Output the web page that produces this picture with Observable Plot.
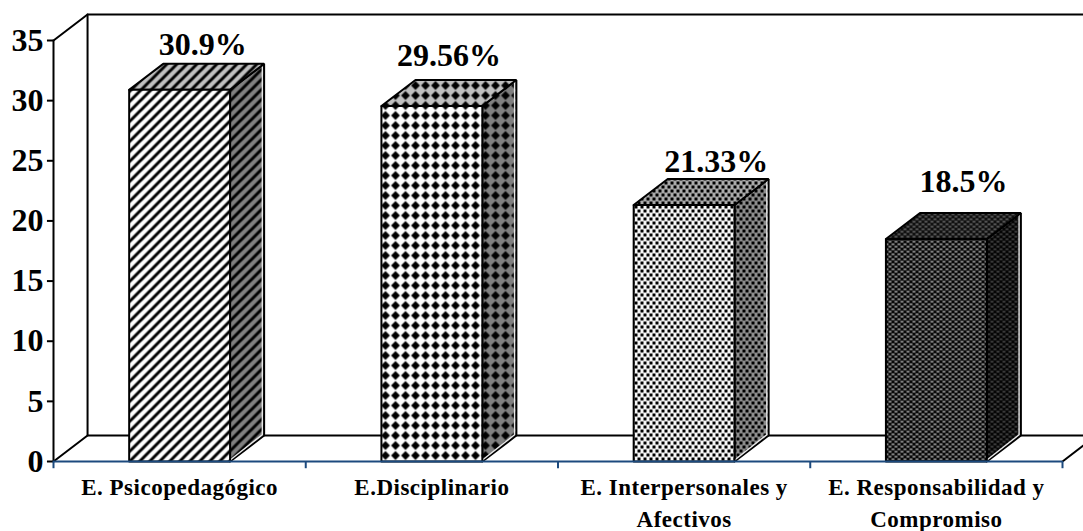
<!DOCTYPE html>
<html>
<head>
<meta charset="utf-8">
<script src="https://cdn.jsdelivr.net/npm/d3@7"></script>
<script src="https://cdn.jsdelivr.net/npm/@observablehq/plot@0.6"></script>
<style>
  html, body { margin: 0; padding: 0; background: #fff; }
  svg { display: block; }
</style>
</head>
<body>
<div id="chart"></div>
<script>
// Survey dimensions and their percentages
const categories = ["E. Psicopedagógico", "E.Disciplinario", "E. Interpersonales y|Afectivos", "E. Responsabilidad y|Compromiso"];
const values = [30.9, 29.56, 21.33, 18.5];
const valueLabels = ["30.9%", "29.56%", "21.33%", "18.5%"];
const yTicks = [0, 5, 10, 15, 20, 25, 30, 35];
const patternNames = ["stripes", "diamonds", "dots", "mesh"];

// Oblique projection of the depth axis, in data units
const depthX = 0.135;
const depthY = 2.16;
const barHalf = 0.2;
const xEnd = categories.length;
const yEnd = 35;

// Pixel nudges that place each value label above its bar
const labelNudge = [[6, -19], [0, -24], [15, -17], [10, -31]];

// Closed outline helper: every polygon carries an id so Plot.line keeps them apart
const poly = (id, pts) => pts.concat([pts[0]]).map(([x, y]) => ({id, x, y}));

const bars = values.map((v, i) => ({
  i, v, x0: i + 0.5 - barHalf, x1: i + 0.5 + barHalf, name: patternNames[i]
}));

const face = (b, which) => {
  const {x0, x1, v} = b;
  if (which === "front") return poly(b.name + which, [[x0, 0], [x1, 0], [x1, v], [x0, v]]);
  if (which === "top") return poly(b.name + which, [[x0, v], [x1, v], [x1 + depthX, v + depthY], [x0 + depthX, v + depthY]]);
  return poly(b.name + which, [[x1, 0], [x1 + depthX, depthY], [x1 + depthX, v + depthY], [x1, v]]);
};

// Back wall and floor outline
const wall = [
  {id: "a", x: 0, y: yEnd}, {id: "a", x: depthX, y: yEnd + depthY}, {id: "a", x: xEnd + depthX + 0.1, y: yEnd + depthY},
  {id: "b", x: depthX, y: yEnd + depthY}, {id: "b", x: depthX, y: depthY}, {id: "b", x: xEnd + depthX + 0.1, y: depthY},
  {id: "c", x: 0, y: 0}, {id: "c", x: depthX, y: depthY},
  {id: "d", x: xEnd, y: 0}, {id: "d", x: xEnd + depthX, y: depthY},
  {id: "e", x: 0, y: 0}, {id: "e", x: 0, y: yEnd}
];

const faceMark = (which) => bars.map(b =>
  Plot.line(face(b, which), {
    x: "x", y: "y", z: "id",
    fill: `url(#${b.name}-${which})`,
    stroke: "#000", strokeWidth: 2, strokeLinejoin: "miter", curve: "linear"
  })
);

// Pale highlight along the lower and outer edges of each side face
const sideGlints = bars.map(b => Plot.line(
  [{x: b.x1 + 0.004, y: 0.1}, {x: b.x1 + depthX, y: depthY + 0.1}, {x: b.x1 + depthX, y: b.v + depthY - 0.1}],
  {x: "x", y: "y", stroke: "#e8e8e8", strokeWidth: 1.4, dx: -1.8, dy: 0.4, curve: "linear"}
));

const serif = "'Liberation Serif', 'Times New Roman', serif";

const svg = Plot.plot({
  width: 1083,
  height: 531,
  style: {background: "transparent", overflow: "hidden"},
  x: {type: "linear", domain: [0, xEnd], range: [53, 1062], axis: null},
  y: {type: "linear", domain: [0, yEnd], range: [461, 40], axis: null},
  marks: [
    Plot.line(wall, {x: "x", y: "y", z: "id", stroke: "#000", strokeWidth: 2, curve: "linear"}),
    // Value-axis ticks and numbers
    Plot.ruleY(yTicks, {y: d => d, x1: -0.024, x2: 0, stroke: "#000", strokeWidth: 2}),
    Plot.text(yTicks, {
      x: 0, y: d => d, text: d => String(d), textAnchor: "end", dx: -10,
      fontFamily: serif, fontWeight: "bold", fontSize: 32, fill: "#000"
    }),
    ...faceMark("side"),
    ...sideGlints,
    ...faceMark("top"),
    ...faceMark("front"),
    // Category axis in dark blue
    Plot.ruleY([0], {x1: 0, x2: xEnd, stroke: "#1c4a7e", strokeWidth: 2}),
    Plot.ruleX(d3.range(xEnd + 1), {x: d => d, y1: 0, y2: -0.6, stroke: "#1c4a7e", strokeWidth: 2}),
    // Value labels above each bar
    ...bars.map(b => Plot.text([b], {
      x: d => d.i + 0.5 + depthX / 2, y: d => d.v + depthY, text: d => valueLabels[d.i],
      dx: labelNudge[b.i][0], dy: labelNudge[b.i][1],
      fontFamily: serif, fontWeight: "bold", fontSize: 32, fill: "#000"
    })),
    // Category labels, one line per row
    Plot.text(categories, {
      x: (d, i) => i + 0.5, y: 0, text: d => d.replace("|", "\n"),
      lineAnchor: "top", lineHeight: 1.39, dy: 11,
      fontFamily: serif, fontWeight: "bold", fontSize: 23, fill: "#000"
    })
  ]
});

// The category labels are set slightly wide
d3.select(svg).selectAll("text")
  .filter(function () { return this.textContent.startsWith("E."); })
  .style("letter-spacing", "0.5px");

// Fill textures for the three visible faces of each bar
const defs = d3.select(svg).insert("defs", ":first-child");
const tints = {front: "#fff", top: "#c0c0c0", side: "#808080"};

function addPattern(name, suffix, w, h, draw, base) {
  const p = defs.append("pattern")
    .attr("id", `${name}-${suffix}`)
    .attr("patternUnits", "userSpaceOnUse")
    .attr("width", w).attr("height", h);
  p.append("rect").attr("width", w).attr("height", h).attr("fill", base);
  draw(p);
}

for (const [suffix, tint] of Object.entries(tints)) {
  addPattern("stripes", suffix, 10, 10, p => {
    p.append("path").attr("d", "M-2.5,2.5L2.5,-2.5M-2.5,12.5L12.5,-2.5M7.5,12.5L12.5,7.5")
      .attr("stroke", "#000").attr("stroke-width", 3);
  }, tint);

  addPattern("diamonds", suffix, 10, 10, p => {
    p.append("path").attr("d", "M5,0.6L9.4,5L5,9.4L0.6,5Z").attr("fill", "#000");
  }, tint);

  addPattern("dots", suffix, 6, 8, p => {
    p.append("rect").attr("x", 1).attr("y", 1).attr("width", 3).attr("height", 3).attr("fill", "#000");
    p.append("rect").attr("x", 4).attr("y", 5).attr("width", 2).attr("height", 3).attr("fill", "#000");
    p.append("rect").attr("x", 0).attr("y", 5).attr("width", 1).attr("height", 3).attr("fill", "#000");
  }, {front: "#f6f6f6", top: "#aaa", side: "#8c8c8c"}[suffix]);

  const meshBase = {front: "#080808", top: "#101010", side: "#050505"}[suffix];
  const meshDot = {front: "#a8a8a8", top: "#686868", side: "#4a4a4a"}[suffix];
  addPattern("mesh", suffix, 6, 5, p => {
    p.append("rect").attr("x", 0).attr("y", 0.5).attr("width", 3).attr("height", 1.5).attr("fill", meshDot);
    p.append("rect").attr("x", 3).attr("y", 3).attr("width", 3).attr("height", 1.5).attr("fill", meshDot);
  }, meshBase);
}

document.getElementById("chart").appendChild(svg);
</script>
</body>
</html>
